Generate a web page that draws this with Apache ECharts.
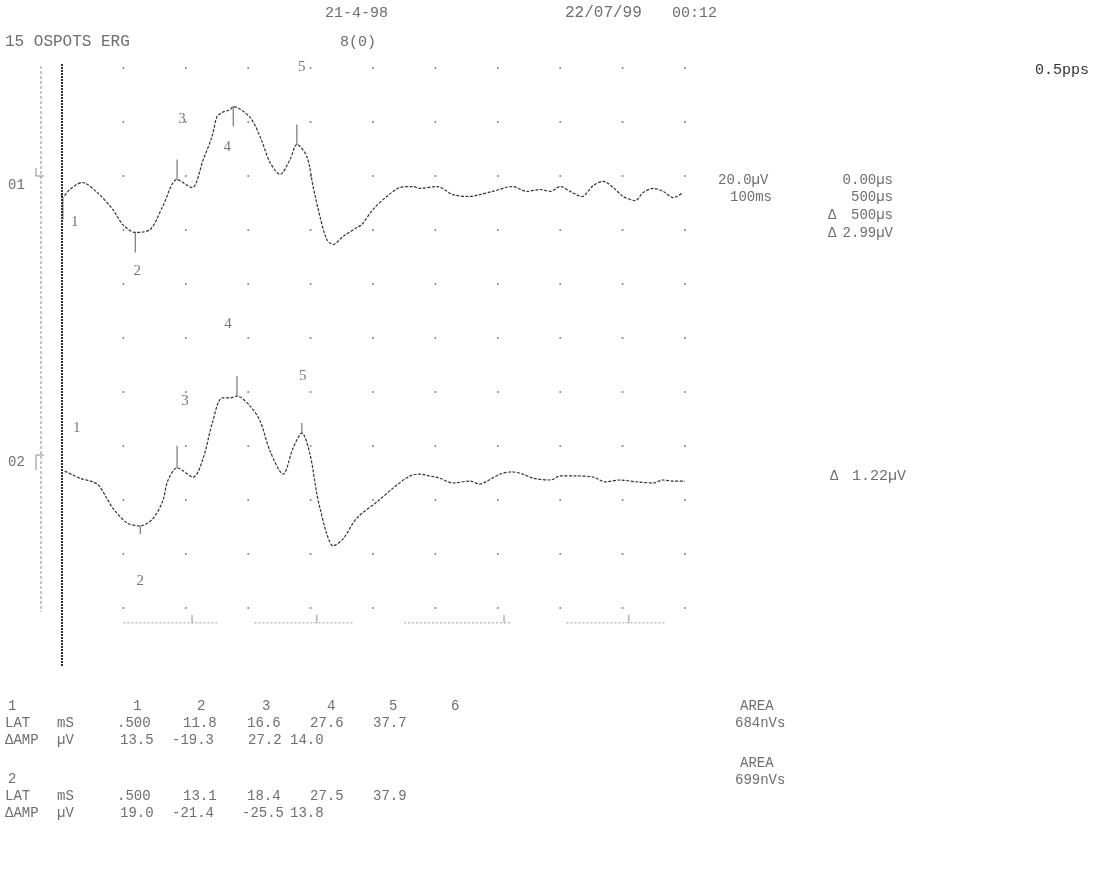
<!DOCTYPE html>
<html>
<head>
<meta charset="utf-8">
<script src="https://cdn.jsdelivr.net/npm/echarts@6/dist/echarts.min.js"></script>
<style>
  html, body { margin: 0; padding: 0; background: #fff; }
  #chart { width: 1096px; height: 874px; }
</style>
</head>
<body>
<div id="chart"></div>
<script>
// time axis (ms) and amplitude grid (µV, 20 µV / div)
const xTicks = [10, 20, 30, 40, 50, 60, 70, 80, 90, 100]
const yTicks = [0, 20, 40, 60, 80, 100, 120, 140, 160, 180, 200]

// channel 01 trace
const o1Time = [0, 0.3, 1.4, 3.4, 5.8, 8.3, 9.9, 11.9, 14.3, 16.3, 18.6, 21.0, 22.8, 24.2, 25.0, 25.8, 27.1, 27.6,
  30.3, 31.9, 33.5, 35.1, 36.7, 37.8, 39.4, 40.4, 41.5, 42.6, 43.6, 45.2, 47.4, 48.2, 50.0, 52.2, 54.3, 56.4,
  57.5, 60.3, 62.8, 65.5, 67.1, 69.2, 72.3, 74.7, 76.8, 78.4, 80.0, 81.6, 83.5, 85.3, 86.9, 88.5, 90.1, 92.0,
  93.3, 94.9, 96.5, 98.1, 99.7]
const o1Amp = [-1.9, -2.6, 0, 2.6, -1.1, -7.4, -13.0, -15.9, -14.8, -6.3, 3.7, 0.7, 11.1, 19.6, 27.0, 28.5, 29.6, 30.7,
  26.7, 19.6, 10.0, 5.6, 11.1, 16.7, 12.2, 1.1, -10.0, -18.5, -20.4, -17.4, -14.1, -13.0, -7.4, -2.6, 0.7, 1.1,
  0.4, 1.1, -1.9, -2.6, -1.9, -0.7, 1.1, -0.7, 0, -0.7, 1.1, -0.7, -2.6, 1.5, 3.0, 0.7, -2.6, -4.1,
  -1.1, 0.4, -0.7, -3.0, -1.1]

// channel 02 trace
const o2Time = [0.6, 3.0, 5.8, 7.4, 8.3, 10.6, 12.7, 14.7, 16.3, 17.1, 18.6, 21.2, 22.8, 24.2, 25.8, 27.1, 28.2,
  30.3, 31.9, 33.5, 35.6, 37.2, 38.6, 39.9, 41.0, 41.5, 42.6, 43.6, 45.2, 47.4, 50.8, 53.2, 55.9, 57.5, 59.1,
  60.7, 62.8, 65.5, 67.1, 68.3, 70.4, 72.3, 74.0, 75.6, 78.4, 80.0, 82.7, 85.3, 87.2, 89.6, 92.3, 94.9, 96.5,
  98.1, 100]
const o2Amp = [0.7, -1.9, -4.1, -9.6, -13.0, -18.5, -19.6, -17.0, -10.4, -3.0, 1.9, -1.5, 5.6, 18.1, 27.8, 27.8, 28.5,
  24.8, 19.3, 8.1, -0.4, 9.3, 14.8, 7.0, -7.8, -13.0, -22.6, -27.0, -24.4, -16.7, -10.4, -5.6, -1.1, -0.4, -1.1,
  -1.9, -3.7, -3.0, -4.1, -3.0, -0.4, 0.4, -0.4, -1.9, -2.6, -1.1, -1.1, -1.5, -3.3, -2.6, -3.3, -3.7, -2.6,
  -3.0, -3.0]

// peak markers 1..5
const markNames = ['1', '2', '3', '4', '5']
const o1MarkLat = [0.3, 11.9, 18.6, 27.6, 37.8]
const o1MarkAmp = [-2.6, -15.9, 3.7, 30.7, 16.7]
const o2MarkLat = [0.6, 12.7, 18.6, 28.2, 38.6]
const o2MarkAmp = [0.7, -19.6, 1.9, 28.5, 14.8]

// time scale bar under the traces (ms)
const scaleSegments = [[10, 25], [31, 47], [55, 72], [81, 97]]
const scaleTicks = [21, 41, 71, 91]

// results table
const tableCols = ['1', '2', '3', '4', '5', '6']
const lat1 = ['.500', '11.8', '16.6', '27.6', '37.7']
const amp1 = ['13.5', '-19.3', '27.2', '14.0']
const lat2 = ['.500', '13.1', '18.4', '27.5', '37.9']
const amp2 = ['19.0', '-21.4', '-25.5', '13.8']
const area1 = '684nVs'
const area2 = '699nVs'

// layout / style (not data)
const O1_BASE = 155
const O2_BASE = 50
const SCALE_Y = -5.5
const o1Ticks = [[23, 1], [20, 1], [20, -1], [20, 1], [20, -1]]
const o2Ticks = [[0, 1], [8, 1], [22, -1], [20, -1], [10, -1]]
const o1LabelOff = [[12, 26], [2, 39], [5, -60], [-6, 40], [5, -77]]
const o2LabelOff = [[12, -43], [0, 55], [8, -67], [-9, -72], [1, -57]]
const FONT = '"Liberation Mono", "DejaVu Sans Mono", monospace'
const TXT = '#6e6e6e'

const chart = echarts.init(document.getElementById('chart'))

const dots = []
xTicks.forEach(x => yTicks.forEach(y => dots.push([x, y])))

const traceData = (times, amps, base) => times.map((t, i) => [t, amps[i] + base])

const tickItems = (lats, amps, base, ticks) => lats.map((t, i) => ({
  value: [t, amps[i] + base],
  symbolSize: [1, ticks[i][0]],
  symbolOffset: [0, ticks[i][1] * ticks[i][0] / 2]
}))

const labelItems = (lats, amps, base, offs) => lats.map((t, i) => ({
  value: [t, amps[i] + base],
  name: markNames[i],
  label: { offset: offs[i] }
}))

const text = (str, x, y, opts = {}) => ({
  type: 'text',
  x: x,
  y: y,
  silent: true,
  style: {
    text: str,
    fill: opts.fill || TXT,
    font: (opts.size || 14) + 'px ' + FONT,
    align: opts.align || 'left',
    verticalAlign: 'middle'
  }
})

const graphics = [
  { type: 'line', shape: { x1: 62, y1: 64, x2: 62, y2: 666 }, style: { stroke: '#2e2e2e', lineWidth: 2, lineDash: [2, 1] } },
  { type: 'line', shape: { x1: 41, y1: 66, x2: 41, y2: 612 }, style: { stroke: '#8a8a8a', lineWidth: 1, lineDash: [3, 2] } },
  { type: 'polyline', shape: { points: [[36, 168], [36, 176], [44, 176]] }, style: { stroke: '#888', lineWidth: 1, fill: null } },
  { type: 'polyline', shape: { points: [[44, 455], [36, 455], [36, 470]] }, style: { stroke: '#888', lineWidth: 1, fill: null } },

  text('21-4-98', 325, 13, { size: 15 }),
  text('22/07/99', 565, 13, { size: 16 }),
  text('00:12', 672, 13, { size: 15 }),
  text('15 OSPOTS ERG', 5, 42, { size: 16 }),
  text('8(0)', 340, 42, { size: 15 }),
  text('0.5pps', 1035, 70, { fill: '#333', size: 15 }),

  text('20.0µV', 718, 180),
  text('0.00µs', 893, 180, { align: 'right' }),
  text('100ms', 730, 197),
  text('500µs', 893, 197, { align: 'right' }),
  text('Δ', 828, 215),
  text('500µs', 893, 215, { align: 'right' }),
  text('Δ', 828, 233),
  text('2.99µV', 893, 233, { align: 'right' }),
  text('Δ', 830, 476),
  text('1.22µV', 852, 476, { size: 15 }),

  text('01', 8, 185),
  text('02', 8, 462)
]

// results table text
const headX = [133, 197, 262, 327, 389, 451]
const latX = [117, 183, 247, 310, 373]
const ampX = [120, 178, 248, 290]
const addBlock = (num, lats, amps, area, y0, areaY) => {
  graphics.push(text(num, 8, y0))
  if (num === '1') tableCols.forEach((c, i) => graphics.push(text(c, headX[i], y0)))
  graphics.push(text('LAT', 5, y0 + 17), text('mS', 57, y0 + 17))
  lats.forEach((v, i) => graphics.push(text(v, latX[i], y0 + 17)))
  graphics.push(text('ΔAMP', 5, y0 + 34), text('µV', 57, y0 + 34))
  amps.forEach((v, i) => graphics.push(text(v, ampX[i] - (v[0] === '-' ? 6 : 0), y0 + 34)))
  graphics.push(text('AREA', 740, areaY), text(area, 735, areaY + 17))
}
addBlock('1', lat1, amp1, area1, 706, 706)
addBlock('2', lat2, amp2, area2, 779, 763)

const lineStyle = { color: '#333', width: 1.2, type: [3, 1.5] }

const series = [
  {
    type: 'scatter',
    data: dots,
    symbolSize: 2,
    itemStyle: { color: '#666' },
    silent: true
  },
  {
    type: 'line',
    data: traceData(o1Time, o1Amp, O1_BASE),
    smooth: 0.3,
    showSymbol: false,
    lineStyle: lineStyle
  },
  {
    type: 'line',
    data: traceData(o2Time, o2Amp, O2_BASE),
    smooth: 0.3,
    showSymbol: false,
    lineStyle: lineStyle
  },
  {
    type: 'scatter',
    symbol: 'rect',
    data: tickItems(o1MarkLat, o1MarkAmp, O1_BASE, o1Ticks).concat(tickItems(o2MarkLat, o2MarkAmp, O2_BASE, o2Ticks)),
    itemStyle: { color: '#333' },
    silent: true
  },
  {
    type: 'scatter',
    symbolSize: 0.1,
    itemStyle: { color: 'transparent' },
    data: labelItems(o1MarkLat, o1MarkAmp, O1_BASE, o1LabelOff).concat(labelItems(o2MarkLat, o2MarkAmp, O2_BASE, o2LabelOff)),
    label: {
      show: true,
      position: 'inside',
      formatter: p => p.name,
      color: '#555',
      fontFamily: 'Liberation Serif',
      fontSize: 15
    },
    silent: true
  },
  {
    type: 'scatter',
    symbol: 'rect',
    symbolSize: [1, 8],
    symbolOffset: [0, -4],
    data: scaleTicks.map(t => [t, SCALE_Y]),
    itemStyle: { color: '#777' },
    silent: true
  }
]
scaleSegments.forEach(seg => {
  series.push({
    type: 'line',
    data: seg.map(t => [t, SCALE_Y]),
    showSymbol: false,
    lineStyle: { color: '#9a9a9a', width: 1, type: [2, 2] },
    silent: true
  })
})

const option = {
  backgroundColor: '#fff',
  animation: false,
  grid: { left: 61, right: 411, top: 68, bottom: 212 },
  xAxis: {
    type: 'value',
    min: 0,
    max: 100,
    interval: 10,
    show: false
  },
  yAxis: {
    type: 'value',
    min: -20,
    max: 200,
    interval: 20,
    show: false
  },
  graphic: graphics,
  series: series
}

chart.setOption(option)
</script>
</body>
</html>
